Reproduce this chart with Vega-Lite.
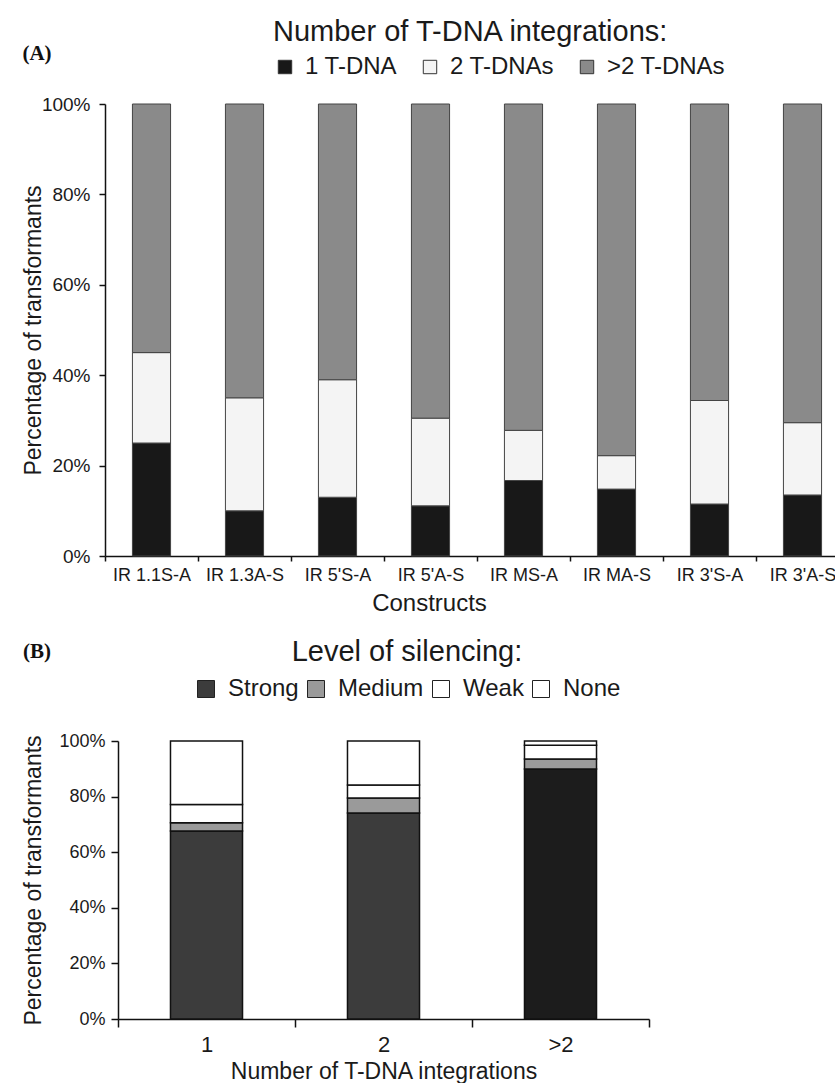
{
  "$schema": "https://vega.github.io/schema/vega-lite/v6.json",
  "padding": {"left": 22, "top": 18, "right": 0, "bottom": 0},
  "spacing": 23,
  "resolve": {"scale": {"color": "independent"}, "legend": {"color": "independent"}},
  "config": {
    "font": "Liberation Sans",
    "view": {"stroke": null},
    "axis": {"grid": false, "domainColor": "#111", "tickColor": "#111", "labelColor": "#1a1a1a", "titleColor": "#1a1a1a", "titleFontWeight": "normal", "domainWidth": 1.5, "tickWidth": 1.5, "labelFont": "Liberation Sans", "titleFont": "Liberation Sans"},
    "legend": {"titleFontWeight": "normal", "titleColor": "#1a1a1a", "labelColor": "#1a1a1a", "padding": 0, "symbolType": "square", "symbolStrokeWidth": 1, "symbolOpacity": 1, "titleFont": "Liberation Sans", "labelFont": "Liberation Sans", "titleLimit": 600, "labelLimit": 300},
    "title": {"font": "Liberation Serif", "fontWeight": "bold", "fontSize": 21, "color": "#111"}
  },
  "vconcat": [
    {
      "width": 731,
      "height": 452,
      "title": {"text": "(A)", "anchor": "start", "frame": "bounds", "dy": 50},
      "data": {"values": [
        {"construct": "IR 1.1S-A", "tdna": "1 T-DNA", "pct": 25},
        {"construct": "IR 1.1S-A", "tdna": "2 T-DNAs", "pct": 20},
        {"construct": "IR 1.1S-A", "tdna": ">2 T-DNAs", "pct": 55},
        {"construct": "IR 1.3A-S", "tdna": "1 T-DNA", "pct": 10},
        {"construct": "IR 1.3A-S", "tdna": "2 T-DNAs", "pct": 25},
        {"construct": "IR 1.3A-S", "tdna": ">2 T-DNAs", "pct": 65},
        {"construct": "IR 5'S-A", "tdna": "1 T-DNA", "pct": 13},
        {"construct": "IR 5'S-A", "tdna": "2 T-DNAs", "pct": 26},
        {"construct": "IR 5'S-A", "tdna": ">2 T-DNAs", "pct": 61},
        {"construct": "IR 5'A-S", "tdna": "1 T-DNA", "pct": 11.1},
        {"construct": "IR 5'A-S", "tdna": "2 T-DNAs", "pct": 19.4},
        {"construct": "IR 5'A-S", "tdna": ">2 T-DNAs", "pct": 69.5},
        {"construct": "IR MS-A", "tdna": "1 T-DNA", "pct": 16.7},
        {"construct": "IR MS-A", "tdna": "2 T-DNAs", "pct": 11.1},
        {"construct": "IR MS-A", "tdna": ">2 T-DNAs", "pct": 72.2},
        {"construct": "IR MA-S", "tdna": "1 T-DNA", "pct": 14.8},
        {"construct": "IR MA-S", "tdna": "2 T-DNAs", "pct": 7.4},
        {"construct": "IR MA-S", "tdna": ">2 T-DNAs", "pct": 77.8},
        {"construct": "IR 3'S-A", "tdna": "1 T-DNA", "pct": 11.5},
        {"construct": "IR 3'S-A", "tdna": "2 T-DNAs", "pct": 22.9},
        {"construct": "IR 3'S-A", "tdna": ">2 T-DNAs", "pct": 65.6},
        {"construct": "IR 3'A-S", "tdna": "1 T-DNA", "pct": 13.5},
        {"construct": "IR 3'A-S", "tdna": "2 T-DNAs", "pct": 16.0},
        {"construct": "IR 3'A-S", "tdna": ">2 T-DNAs", "pct": 70.5}
      ]},
      "mark": {"type": "bar", "stroke": "#444", "strokeWidth": 1, "width": {"band": 0.41}},
      "encoding": {
        "x": {"field": "construct", "type": "nominal", "sort": null,
          "scale": {"paddingInner": 0, "paddingOuter": 0, "range": [-13, 731]},
          "axis": {"title": "Constructs", "titleX": 311, "labelAngle": 0, "labelFontSize": 18, "titleFontSize": 24, "tickBand": "extent", "tickSize": 5, "labelPadding": 5, "titlePadding": 7}},
        "y": {"field": "pct", "type": "quantitative", "stack": "zero", "scale": {"domain": [0, 100]},
          "axis": {"offset": 13, "values": [0, 20, 40, 60, 80, 100], "labelExpr": "datum.value + '%'", "title": "Percentage of transformants", "labelFontSize": 19, "titleFontSize": 23, "tickSize": 6, "labelPadding": 9, "titlePadding": -4}},
        "color": {"field": "tdna", "type": "nominal",
          "scale": {"domain": ["1 T-DNA", "2 T-DNAs", ">2 T-DNAs"], "range": ["#181818", "#f4f4f4", "#8a8a8a"]},
          "legend": {"title": "Number of T-DNA integrations:", "orient": "none", "legendX": 155, "legendY": -86, "direction": "horizontal", "titleAnchor": "start", "titleOrient": "top", "titleFontSize": 29, "titlePadding": 8, "labelFontSize": 24, "symbolSize": 180, "columnPadding": 20, "labelOffset": 8, "symbolStrokeColor": "#333"}},
        "order": {"field": "tdna", "sort": "ascending"}
      }
    },
    {
      "width": 531,
      "height": 278,
      "title": {"text": "(B)", "anchor": "start", "frame": "bounds", "dy": 28},
      "data": {"values": [
        {"n": "1", "level": "Strong", "rank": 1, "pct": 67.6},
        {"n": "1", "level": "Medium", "rank": 2, "pct": 3.0},
        {"n": "1", "level": "Weak", "rank": 3, "pct": 6.6},
        {"n": "1", "level": "None", "rank": 4, "pct": 22.8},
        {"n": "2", "level": "Strong", "rank": 1, "pct": 74.1},
        {"n": "2", "level": "Medium", "rank": 2, "pct": 5.4},
        {"n": "2", "level": "Weak", "rank": 3, "pct": 4.7},
        {"n": "2", "level": "None", "rank": 4, "pct": 15.8},
        {"n": ">2", "level": "Strong", "rank": 1, "pct": 89.9},
        {"n": ">2", "level": "Medium", "rank": 2, "pct": 3.6},
        {"n": ">2", "level": "Weak", "rank": 3, "pct": 5.0},
        {"n": ">2", "level": "None", "rank": 4, "pct": 1.5}
      ]},
      "mark": {"type": "bar", "stroke": "#111", "strokeWidth": 1.5, "width": {"band": 0.407}},
      "encoding": {
        "x": {"field": "n", "type": "nominal", "sort": null,
          "scale": {"paddingInner": 0, "paddingOuter": 0},
          "axis": {"title": "Number of T-DNA integrations", "labelAngle": 0, "labelFontSize": 22, "titleFontSize": 23, "tickBand": "extent", "tickSize": 8, "labelPadding": 7, "titlePadding": 5}},
        "y": {"field": "pct", "type": "quantitative", "stack": "zero", "scale": {"domain": [0, 100]},
          "axis": {"values": [0, 20, 40, 60, 80, 100], "labelExpr": "datum.value + '%'", "title": "Percentage of transformants", "labelFontSize": 18, "titleFontSize": 23, "tickSize": 7, "labelPadding": 6, "titlePadding": 13}},
        "color": {
          "condition": {"test": "datum.n === '>2' && datum.level === 'Strong'", "value": "#1c1c1c"},
          "field": "level", "type": "nominal",
          "scale": {"domain": ["Strong", "Medium", "Weak", "None"], "range": ["#3c3c3c", "#9a9a9a", "#ffffff", "#ffffff"]},
          "legend": {"title": "Level of silencing:", "orient": "none", "legendX": 76, "legendY": -103, "direction": "horizontal", "titleAnchor": "middle", "titleOrient": "top", "titleFontSize": 29, "titlePadding": 10, "labelFontSize": 24, "symbolSize": 289, "columnPadding": 5, "labelOffset": 10, "symbolStrokeColor": "#222"}},
        "order": {"field": "rank", "sort": "ascending"}
      }
    }
  ]
}
